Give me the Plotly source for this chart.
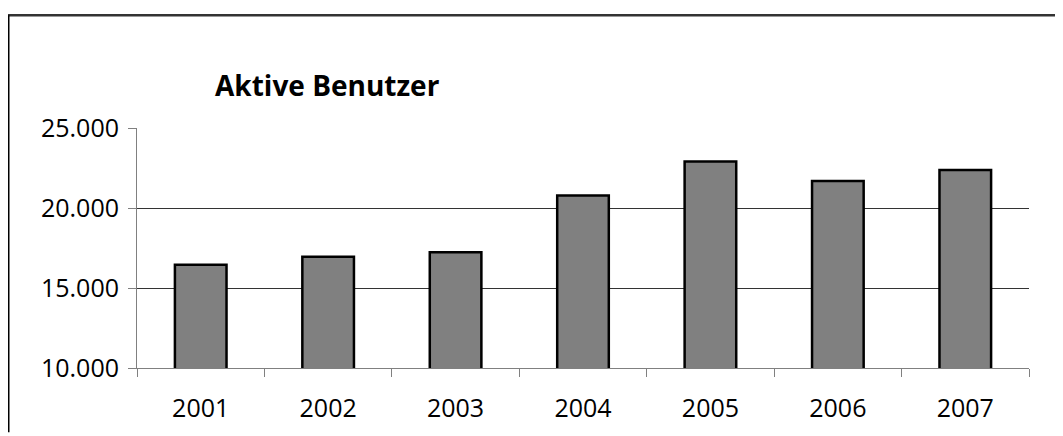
import plotly.graph_objects as go

years = ["2001", "2002", "2003", "2004", "2005", "2006", "2007"]
users = [16450, 16950, 17230, 20780, 22910, 21680, 22380]
title_text = "Aktive Benutzer"
y_ticks = [10000, 15000, 20000, 25000]

# page has an 8px body margin; the figure is sized to fit inside the window
W, H = 1055, 428
L, R, T, B = 129, 34, 120, 61
pw, ph = W - L - R, H - T - B

def px_x(x):
    return (x - L) / pw

def px_y(y):
    return (H - B - y) / ph

FONT = "Open Sans"

fig = go.Figure(go.Bar(
    x=years, y=users,
    marker=dict(color="#808080", line=dict(color="#000000", width=2.5)),
    width=0.405,
))

fig.update_layout(
    width=W, height=H,
    margin=dict(l=L, r=R, t=T, b=B, pad=0),
    paper_bgcolor="white", plot_bgcolor="white",
    separators=",.",
    showlegend=False,
    font=dict(family=FONT, size=25, color="#000000"),
    xaxis=dict(
        type="category",
        tickson="boundaries",
        ticks="outside", ticklen=8, tickcolor="#808080", tickwidth=1,
        showline=True, linecolor="#808080", linewidth=1,
        showgrid=False,
        tickfont=dict(family=FONT, size=25, color="#000000"),
        ticklabelstandoff=18,
    ),
    yaxis=dict(
        range=[10000, 25000],
        tickvals=y_ticks,
        tickformat=",d",
        ticks="outside", ticklen=8, tickcolor="#808080", tickwidth=1,
        showline=True, linecolor="#808080", linewidth=1,
        showgrid=True, gridcolor="#333333", gridwidth=1,
        zeroline=False,
        tickfont=dict(family=FONT, size=25, color="#000000"),
        ticklabelstandoff=4,
    ),
    annotations=[dict(
        text="<b>" + title_text + "</b>",
        xref="paper", yref="paper",
        x=px_x(205), y=px_y(76),
        xanchor="left", yanchor="middle",
        showarrow=False,
        font=dict(family=FONT, size=28, color="#000000"),
    )],
    shapes=[
        dict(type="line", xref="paper", yref="paper",
             x0=px_x(0), x1=px_x(W + 5), y0=px_y(4), y1=px_y(4),
             line=dict(color="#333333", width=2.5)),
        dict(type="line", xref="paper", yref="paper",
             x0=px_x(0.75), x1=px_x(0.75), y0=px_y(4), y1=px_y(H + 5),
             line=dict(color="#000000", width=1.5)),
    ],
)

fig.write_html("out.html")
